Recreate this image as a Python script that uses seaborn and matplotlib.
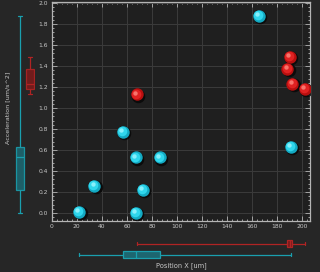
import numpy as np
import pandas as pd
import matplotlib
matplotlib.use("Agg")
import matplotlib.pyplot as plt
import matplotlib.transforms as mtransforms
from matplotlib.ticker import MultipleLocator
import seaborn as sns

# ---- data ----
groups = ["Group 1", "Group 2"]
pos_x_g1 = [22, 34, 67, 73, 57, 67, 86, 165, 191]
acc_g1 = [0.01, 0.26, 0.00, 0.22, 0.77, 0.53, 0.53, 1.88, 0.63]
pos_x_g2 = [68, 190, 188, 192, 202]
acc_g2 = [1.13, 1.49, 1.37, 1.23, 1.18]

x_ticks = [0, 20, 40, 60, 80, 100, 120, 140, 160, 180, 200]
y_ticks = [0.0, 0.2, 0.4, 0.6, 0.8, 1.0, 1.2, 1.4, 1.6, 1.8, 2.0]
x_label = "Position X [um]"
y_label = "Acceleration [um/s^2]"

df = pd.DataFrame({
    "group": [groups[0]] * len(pos_x_g1) + [groups[1]] * len(pos_x_g2),
    "x": pos_x_g1 + pos_x_g2,
    "acc": acc_g1 + acc_g2,
})

# ---- styling ----
sns.set_theme(style="dark")
plt.rcParams["font.family"] = ["DejaVu Sans"]
FIG_BG = "#262626"
AX_BG = "#1f1f1f"
GRID = "#3b3b3b"
SPINE = "#b4b4b4"
TXT = "#c8c8c8"
ball_base = {groups[0]: "#13a9c2", groups[1]: "#b80f0f"}
ball_mid = {groups[0]: "#2fd6ec", groups[1]: "#e02222"}
ball_hi = {groups[0]: "#9ff6ff", groups[1]: "#ff8a80"}
box_line = {groups[0]: "#1a9fae", groups[1]: "#b02424"}
box_fill = {groups[0]: "#1d6670", groups[1]: "#7a1b1b"}

W, H = 320, 272
fig = plt.figure(figsize=(W / 100, H / 100), dpi=100, facecolor=FIG_BG)

def frac(x0, y0, x1, y1):
    return [x0 / W, 1 - y1 / H, (x1 - x0) / W, (y1 - y0) / H]

ax = fig.add_axes(frac(51.7, 1.5, 310, 220.7))
ax.set_facecolor(AX_BG)
XLIM = (0, 206)
YLIM = (-0.073, 2.014)

# balls: shadow, base, mid, highlight
def shifted(coll, dx, dy):
    coll.set_offset_transform(ax.transData + mtransforms.ScaledTranslation(dx / 72, dy / 72, fig.dpi_scale_trans))

n0 = len(ax.collections)
sns.scatterplot(data=df, x="x", y="acc", color="#080808", s=95, linewidth=0, alpha=0.85, ax=ax, legend=False, zorder=3)
shifted(ax.collections[-1], 0.9, -0.9)
for g in groups:
    sub = df[df.group == g]
    sns.scatterplot(data=sub, x="x", y="acc", color=ball_base[g], s=80, linewidth=0, ax=ax, legend=False, zorder=4)
    sns.scatterplot(data=sub, x="x", y="acc", color=ball_mid[g], s=48, linewidth=0, ax=ax, legend=False, zorder=5)
    shifted(ax.collections[-1], -0.6, 0.6)
    sns.scatterplot(data=sub, x="x", y="acc", color=ball_hi[g], s=10, linewidth=0, alpha=0.8, ax=ax, legend=False, zorder=6)
    shifted(ax.collections[-1], -1.3, 1.3)

ax.set_xlim(*XLIM)
ax.set_ylim(*YLIM)
ax.set_xticks(x_ticks)
ax.set_yticks(y_ticks)
ax.set_xticklabels([str(v) for v in x_ticks])
ax.set_yticklabels([f"{v:.1f}" for v in y_ticks])
ax.xaxis.set_minor_locator(MultipleLocator(4))
ax.yaxis.set_minor_locator(MultipleLocator(0.04))
ax.tick_params(which="both", direction="in", top=True, right=True, bottom=True, left=True,
               colors=SPINE, labelcolor=TXT, labelsize=4.3, width=0.6)
ax.tick_params(which="major", length=3.5, pad=2.5)
ax.tick_params(which="minor", length=1.6)
ax.grid(True, which="major", color=GRID, linewidth=0.7)
ax.set_axisbelow(True)
for sp in ax.spines.values():
    sp.set_color(SPINE)
    sp.set_linewidth(0.9)
    sp.set_visible(True)
ax.set_xlabel("")
ax.set_ylabel("")

# ---- left boxplots (acceleration) ----
axy = fig.add_axes(frac(15, 1.5, 35, 220.7))
axy.set_facecolor("none")
for g in groups:
    sub = df[df.group == g]
    sns.boxplot(data=sub, x="group", y="acc", order=groups, whis=(0, 100), width=0.72,
                color=box_fill[g], linecolor=box_line[g], linewidth=0.9, saturation=1,
                showfliers=False, ax=axy)
for p in axy.patches:
    p.set_alpha(0.9)
axy.set_ylim(*YLIM)
axy.set_xlim(-0.5, 1.5)
axy.axis("off")

# ---- bottom boxplots (position x) ----
order_x = [groups[1], groups[0]]
axx = fig.add_axes(frac(51.7, 238, 310, 260))
axx.set_facecolor("none")
for g in groups:
    sub = df[df.group == g]
    sns.boxplot(data=sub, x="x", y="group", order=order_x, orient="h", whis=(0, 100), width=0.66,
                color=box_fill[g], linecolor=box_line[g], linewidth=0.9, saturation=1,
                showfliers=False, ax=axx)
axx.set_xlim(*XLIM)
axx.set_ylim(1.5, -0.5)
axx.axis("off")

fig.text(8 / W, 1 - 108 / H, y_label, rotation=90, ha="center", va="center", color=TXT, fontsize=4.6)
fig.text(181 / W, 1 - 266 / H, x_label, ha="center", va="center", color=TXT, fontsize=4.8)

fig.savefig("out.png", dpi=100, facecolor=FIG_BG)
